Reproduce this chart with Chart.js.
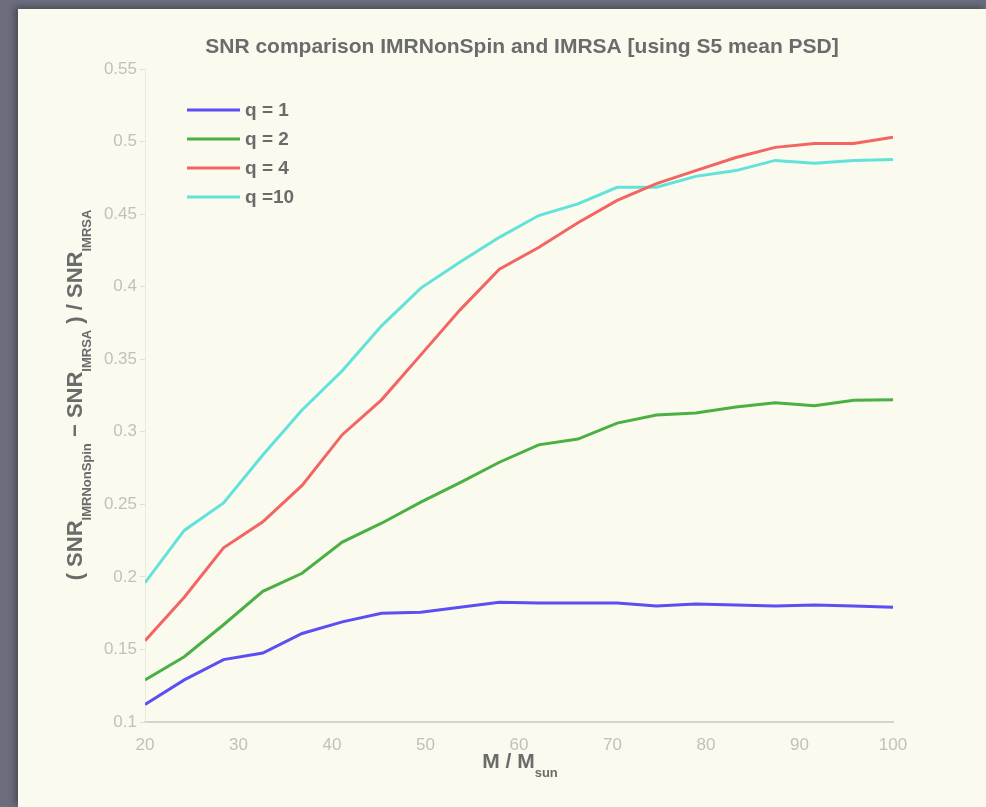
<!DOCTYPE html>
<html>
<head>
<meta charset="utf-8">
<title>SNR comparison IMRNonSpin and IMRSA</title>
<script src="https://cdn.jsdelivr.net/npm/chart.js@4/dist/chart.umd.min.js"></script>
<style>
  html, body { margin: 0; padding: 0; }
  body { width: 986px; height: 807px; background: #6c6e7e; overflow: hidden; position: relative; }
  .sheet { position: absolute; left: 18px; top: 9px; right: 0; bottom: 0; background: #fbfaee; box-shadow: -3px -2px 7px rgba(0, 0, 0, .35); }
  #chart { position: absolute; left: 0; top: 0; }
</style>
</head>
<body>
<div class="sheet"></div>
<canvas id="chart" width="986" height="807"></canvas>
<script>
// total mass M / M_sun, 20 samples
const masses = [20, 24.2, 28.4, 32.6, 36.8, 41.1, 45.3, 49.5, 53.7, 57.9,
  62.1, 66.3, 70.5, 74.7, 78.9, 83.2, 87.4, 91.6, 95.8, 100];

const seriesNames = ['q = 1', 'q = 2', 'q = 4', 'q =10'];
const seriesColors = ['#5b4ff2', '#4bb043', '#f26563', '#62e2d9'];

const q1 = [0.112, 0.129, 0.143, 0.1475, 0.161, 0.169, 0.175, 0.1757, 0.179, 0.1826,
  0.182, 0.182, 0.182, 0.180, 0.1813, 0.1806, 0.180, 0.1806, 0.180, 0.179];
const q2 = [0.129, 0.145, 0.167, 0.190, 0.2025, 0.224, 0.237, 0.2515, 0.265, 0.279,
  0.291, 0.295, 0.306, 0.3115, 0.313, 0.317, 0.320, 0.318, 0.3217, 0.322];
const q4 = [0.156, 0.186, 0.220, 0.238, 0.263, 0.298, 0.322, 0.353, 0.384, 0.412,
  0.427, 0.444, 0.4595, 0.471, 0.480, 0.489, 0.496, 0.4987, 0.4987, 0.503];
const q10 = [0.196, 0.232, 0.251, 0.284, 0.315, 0.342, 0.373, 0.399, 0.417, 0.434,
  0.449, 0.457, 0.4685, 0.4685, 0.476, 0.480, 0.487, 0.485, 0.487, 0.4877];

const xTicks = [20, 30, 40, 50, 60, 70, 80, 90, 100];
const yTicks = [0.1, 0.15, 0.2, 0.25, 0.3, 0.35, 0.4, 0.45, 0.5, 0.55];

const titleText = 'SNR comparison IMRNonSpin and IMRSA [using S5 mean PSD]';

(function () {
  const tickColor = '#c3c1b6';
  const textColor = '#6b6b6b';
  const font = '"Liberation Sans", Arial, sans-serif';

  const toPoints = function (values) {
    return values.map(function (v, i) { return { x: masses[i], y: v }; });
  };

  // draws a run of [text, isSub] pieces starting at x (baseline y)
  const drawRuns = function (ctx, runs, x, y, size, subSize) {
    runs.forEach(function (run) {
      ctx.font = 'bold ' + (run[1] ? subSize : size) + 'px ' + font;
      ctx.fillText(run[0], x, run[1] ? y + size * 0.42 : y);
      x += ctx.measureText(run[0]).width;
    });
  };

  const runsWidth = function (ctx, runs, size, subSize) {
    return runs.reduce(function (sum, run) {
      ctx.font = 'bold ' + (run[1] ? subSize : size) + 'px ' + font;
      return sum + ctx.measureText(run[0]).width;
    }, 0);
  };

  const decorations = {
    id: 'decorations',
    afterDraw: function (chart) {
      const ctx = chart.ctx;
      const area = chart.chartArea;
      ctx.save();
      ctx.fillStyle = textColor;
      ctx.textBaseline = 'alphabetic';

      // title
      ctx.font = 'bold 21px ' + font;
      ctx.textAlign = 'center';
      ctx.fillText(titleText, 522, 53);
      ctx.textAlign = 'left';

      // x axis title
      const xRuns = [['M / M', false], ['sun', true]];
      const xw = runsWidth(ctx, xRuns, 21, 13);
      drawRuns(ctx, xRuns, 520 - xw / 2, 768, 21, 13);

      // y axis title, rotated
      const yRuns = [['( SNR', false], ['IMRNonSpin', true], [' \u2212 SNR', false], ['IMRSA', true],
        [' ) / SNR', false], ['IMRSA', true]];
      const yw = runsWidth(ctx, yRuns, 22, 13);
      ctx.translate(82, 395);
      ctx.rotate(-Math.PI / 2);
      drawRuns(ctx, yRuns, -yw / 2, 0, 22, 13);
      ctx.setTransform(1, 0, 0, 1, 0, 0);

      // legend inside the axes
      chart.data.datasets.forEach(function (ds, i) {
        const y = 110 + i * 29;
        ctx.strokeStyle = ds.borderColor;
        ctx.lineWidth = 3;
        ctx.beginPath();
        ctx.moveTo(area.left + 42, y);
        ctx.lineTo(area.left + 95, y);
        ctx.stroke();
        ctx.fillStyle = textColor;
        ctx.font = 'bold 19px ' + font;
        ctx.textBaseline = 'middle';
        ctx.fillText(ds.label, area.left + 100, y + 1);
      });
      ctx.restore();
    }
  };

  const datasets = [q1, q2, q4, q10].map(function (values, i) {
    return {
      label: seriesNames[i],
      data: toPoints(values),
      borderColor: seriesColors[i],
      backgroundColor: seriesColors[i],
      borderWidth: 3,
      pointRadius: 0,
      tension: 0,
      fill: false
    };
  });

  new Chart(document.getElementById('chart'), {
    type: 'line',
    data: { datasets: datasets },
    options: {
      responsive: false,
      animation: false,
      layout: { padding: { left: 0, top: 69, right: 93, bottom: 0 } },
      plugins: {
        legend: { display: false },
        title: { display: false },
        tooltip: { enabled: false }
      },
      scales: {
        x: {
          type: 'linear',
          min: 20,
          max: 100,
          afterFit: function (scale) { scale.height = 85; },
          afterBuildTicks: function (scale) {
            scale.ticks = xTicks.map(function (v) { return { value: v }; });
          },
          grid: { display: false },
          border: { display: true, color: '#d6d4c8', width: 2 },
          ticks: { color: tickColor, font: { family: font, size: 17 }, padding: 5, maxRotation: 0 }
        },
        y: {
          min: 0.1,
          max: 0.55,
          afterFit: function (scale) { scale.width = 145; },
          afterBuildTicks: function (scale) {
            scale.ticks = yTicks.map(function (v) { return { value: v }; });
          },
          grid: { display: true, drawOnChartArea: false, tickLength: 5, color: '#e2e0d3' },
          border: { display: true, color: '#ecebdf', width: 1 },
          ticks: {
            color: tickColor,
            font: { family: font, size: 17 },
            padding: 3,
            callback: function (value) { return String(Number(value.toFixed(2))); }
          }
        }
      }
    },
    plugins: [decorations]
  });
})();
</script>
</body>
</html>
